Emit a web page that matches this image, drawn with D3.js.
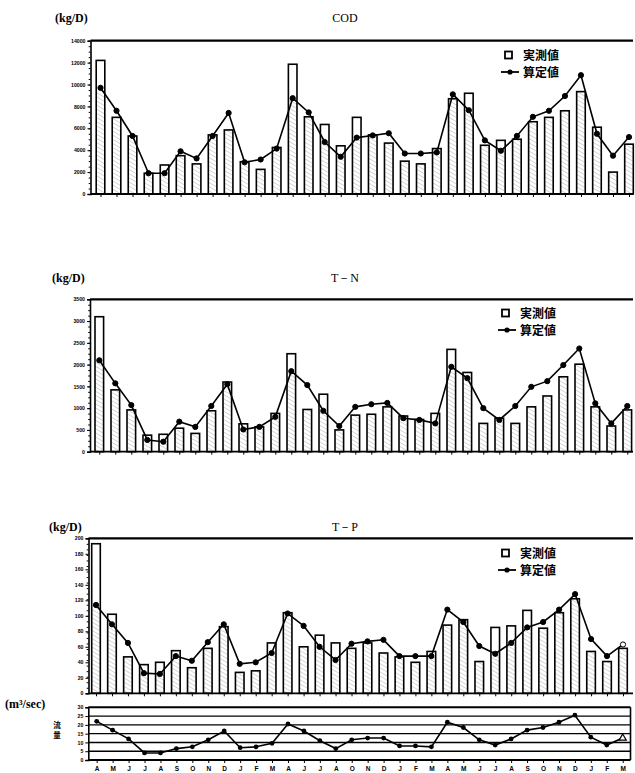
<!DOCTYPE html>
<html><head><meta charset="utf-8">
<script src="https://cdn.jsdelivr.net/npm/d3@7"></script>
<style>
html,body{margin:0;padding:0;background:#fff;}
svg{display:block;}
.tick text{font-family:"Liberation Sans Narrow","Liberation Sans",Arial,sans-serif;font-weight:bold;}
</style></head>
<body>
<svg id="chart" width="635" height="773"></svg>
<script>
// ---- data ----
const months = ["A","M","J","J","A","S","O","N","D","J","F","M",
                "A","J","J","A","O","N","D","J","F","M",
                "A","M","J","J","A","S","O","N","D","J","F","M"];
const codObserved = [12200,7000,5300,1900,2650,3500,2750,5400,5850,2950,2250,4250,
                     11850,7050,6350,4400,7000,5400,4650,3000,2750,4150,8700,9200,
                     4450,4900,5000,6600,7000,7600,9350,6100,2000,4550];
const codComputed = [9700,7600,5300,1900,1900,3900,3250,5300,7400,2900,3150,4150,
                     8750,7450,4750,3400,5150,5350,5550,3700,3700,3800,9100,7650,
                     4900,3950,5300,7050,7600,8950,10850,5500,3500,5200];
const tnObserved = [3100,1420,960,380,400,540,420,940,1600,640,570,880,
                    2250,970,1320,500,840,860,1030,820,740,880,2350,1820,
                    650,770,650,1030,1280,1720,2010,1030,590,960];
const tnComputed = [2100,1570,1070,270,230,690,570,1050,1550,510,570,800,
                    1850,1530,940,590,1030,1090,1120,770,730,650,1950,1690,
                    1000,730,1050,1490,1620,1990,2370,1110,650,1050];
const tpObserved = [193,102,47,37,40,55,33,58,86,27,29,65,
                    104,60,75,65,58,65,52,47,40,54,88,95,
                    41,85,87,107,84,104,122,54,41,58];
const tpComputed = [114,89,65,26,25,48,42,66,89,38,40,52,
                    103,87,60,43,64,67,69,48,48,48,108,92,
                    61,51,65,85,92,108,128,70,48,63];
const flow = [22,17,12,4,4,6.5,7.5,11.5,16.5,7,7.5,9.5,
              20.5,16.5,11,6.5,11.5,12.5,12.5,8,8,7.5,21.5,18.5,
              11.5,8.5,12,17,18.5,21.5,25.5,13,8.5,12.5];
const codTicks = [0,2000,4000,6000,8000,10000,12000,14000];
const tnTicks = [0,500,1000,1500,2000,2500,3000,3500];
const tpTicks = [0,20,40,60,80,100,120,140,160,180,200];
const flowTicks = [0,5,10,15,20,25,30];
const legendObserved = "実測値";
const legendComputed = "算定値";
const unitLoad = "(kg/D)";
const unitFlow = "(m³/sec)";
const flowLabel = ["流","量"];

// ---- drawing ----
const svg = d3.select("#chart");
const defs = svg.append("defs");
const pat = defs.append("pattern").attr("id","hatch").attr("patternUnits","userSpaceOnUse")
  .attr("width",3.6).attr("height",3.6).attr("patternTransform","rotate(-60)");
pat.append("rect").attr("width",3.6).attr("height",3.6).attr("fill","#fff");
pat.append("line").attr("x1",0).attr("y1",0).attr("x2",0).attr("y2",3.6)
  .attr("stroke","#a8a8a8").attr("stroke-width",0.9);

const idx = d3.range(months.length);
const serif = "'Liberation Serif','DejaVu Serif',serif";
const cjk = "'Noto Sans CJK JP','Noto Sans CJK SC',sans-serif";

function panel(cfg){
  const g = svg.append("g");
  const x = d3.scalePoint().domain(idx).range([cfg.x0, cfg.x1]);
  const y = d3.scaleLinear().domain([0, cfg.max]).range([cfg.yBottom, cfg.yTop]);
  const bw = 8.6;
  // top frame line
  g.append("line").attr("x1",cfg.axisX).attr("x2",633).attr("y1",y(cfg.max)).attr("y2",y(cfg.max))
    .attr("stroke","#000").attr("stroke-width",2.2);
  // bars
  const bars = g.append("g");
  idx.forEach(i=>{
    const ob = cfg.obs[i], cp = cfg.comp[i];
    const lo = Math.min(ob, cp);
    bars.append("rect").attr("x",x(i)-bw/2).attr("width",bw)
      .attr("y",y(lo)).attr("height",y(0)-y(lo)).attr("fill","url(#hatch)");
    bars.append("rect").attr("x",x(i)-bw/2).attr("width",bw)
      .attr("y",y(ob)).attr("height",y(0)-y(ob)).attr("fill","none")
      .attr("stroke","#000").attr("stroke-width",1.6);
  });
  // computed line
  const line = d3.line().x(i=>x(i)).y(i=>y(cfg.comp[i]));
  g.append("path").datum(idx).attr("d",line).attr("fill","none")
    .attr("stroke","#000").attr("stroke-width",1.6);
  g.selectAll("circle.pt").data(idx).join("circle").attr("class","pt")
    .attr("cx",i=>x(i)).attr("cy",i=>y(cfg.comp[i])).attr("r",2.6)
    .attr("fill",i=> (cfg.openLast && i===idx.length-1) ? "#fff" : "#000")
    .attr("stroke","#000").attr("stroke-width",1);
  // left axis
  const ay = d3.axisLeft(y).tickValues(cfg.ticks).tickSize(3).tickPadding(2).tickFormat(d3.format("d"));
  const ag = g.append("g").attr("transform",`translate(${cfg.axisX},0)`).call(ay);
  ag.select(".domain").attr("stroke-width",1.6);
  ag.selectAll(".tick text").attr("font-size",5.2);
  const minor = d3.axisLeft(y).tickValues(d3.range(0,cfg.max+1e-9,cfg.max/28)).tickSize(1.8).tickFormat("");
  g.append("g").attr("transform",`translate(${cfg.axisX},0)`).call(minor).select(".domain").remove();
  // bottom axis
  g.append("line").attr("x1",cfg.axisX).attr("x2",633).attr("y1",y(0)).attr("y2",y(0))
    .attr("stroke","#000").attr("stroke-width",1.8);
  const ax = d3.axisBottom(x).tickSize(3).tickFormat("");
  const bx = g.append("g").attr("transform",`translate(0,${y(0)})`).call(ax);
  bx.select(".domain").remove();
  // texts
  g.append("text").attr("x",cfg.unitX).attr("y",cfg.titleY).text(unitLoad)
    .attr("font-family",serif).attr("font-size",12).attr("font-weight","bold");
  g.append("text").attr("x",345).attr("y",cfg.titleY).attr("text-anchor","middle").text(cfg.title)
    .attr("font-family",serif).attr("font-size",12);
  // legend
  const lg = g.append("g").attr("transform",`translate(${cfg.legX},${cfg.legY})`);
  lg.append("rect").attr("x",0).attr("y",-3.5).attr("width",7).attr("height",7)
    .attr("fill","#fff").attr("stroke","#000").attr("stroke-width",1.8);
  lg.append("text").attr("x",18).attr("y",4.5).text(legendObserved)
    .attr("font-family",cjk).attr("font-size",12).attr("font-weight","bold");
  lg.append("line").attr("x1",-4).attr("x2",14).attr("y1",17).attr("y2",17)
    .attr("stroke","#000").attr("stroke-width",1.8);
  lg.append("circle").attr("cx",5).attr("cy",17).attr("r",2.6).attr("fill","#000");
  lg.append("text").attr("x",18).attr("y",21.5).text(legendComputed)
    .attr("font-family",cjk).attr("font-size",12).attr("font-weight","bold");
}

panel({obs:codObserved, comp:codComputed, max:14000, ticks:codTicks,
  yBottom:194, yTop:40.7, x0:100.5, x1:629, axisX:90.5,
  title:"COD", titleY:22, unitX:55, legX:505, legY:55});
panel({obs:tnObserved, comp:tnComputed, max:3500, ticks:tnTicks,
  yBottom:451.7, yTop:299.3, x0:99.3, x1:627.3, axisX:90,
  title:"T－N", titleY:282, unitX:52, legX:502, legY:313});
panel({obs:tpObserved, comp:tpComputed, max:200, ticks:tpTicks,
  yBottom:693.3, yTop:538.3, x0:96, x1:623, axisX:88.5,
  title:"T－P", titleY:531, unitX:49, legX:502, legY:553, openLast:true});

// flow panel
(function(){
  const g = svg.append("g");
  const x = d3.scalePoint().domain(idx).range([96.7, 622.7]);
  const y = d3.scaleLinear().domain([0,30]).range([760, 707.3]);
  const ax0 = 88.3, right = 630.5;
  g.selectAll("line.grid").data(flowTicks.filter(d=>d>0)).join("line").attr("class","grid")
    .attr("x1",ax0).attr("x2",right).attr("y1",d=>y(d)).attr("y2",d=>y(d))
    .attr("stroke","#000").attr("stroke-width",d=>d===30?2:1.4);
  g.append("line").attr("x1",right).attr("x2",right).attr("y1",y(30)).attr("y2",y(0))
    .attr("stroke","#000").attr("stroke-width",1.6);
  g.append("line").attr("x1",ax0).attr("x2",right).attr("y1",y(0)).attr("y2",y(0))
    .attr("stroke","#000").attr("stroke-width",1.8);
  const ay = d3.axisLeft(y).tickValues(flowTicks).tickSize(3).tickPadding(2);
  const ag = g.append("g").attr("transform",`translate(${ax0},0)`).call(ay);
  ag.select(".domain").attr("stroke-width",1.6);
  ag.selectAll(".tick text").attr("font-size",5.2);
  const bx = g.append("g").attr("transform",`translate(0,${y(0)})`)
    .call(d3.axisBottom(x).tickSize(3).tickPadding(3).tickFormat(i=>months[i]));
  bx.select(".domain").remove();
  bx.selectAll(".tick text").attr("font-size",6.5).attr("font-family","'Liberation Sans',Arial,sans-serif");
  const line = d3.line().x(i=>x(i)).y(i=>y(flow[i]));
  g.append("path").datum(idx).attr("d",line).attr("fill","none").attr("stroke","#000").attr("stroke-width",1.6);
  g.selectAll("circle.fp").data(idx.slice(0,-1)).join("circle").attr("class","fp")
    .attr("cx",i=>x(i)).attr("cy",i=>y(flow[i])).attr("r",2.4).attr("fill","#000");
  const li = idx.length-1;
  g.append("path").attr("d",d3.symbol(d3.symbolTriangle,22)())
    .attr("transform",`translate(${x(li)},${y(flow[li])})`)
    .attr("fill","#fff").attr("stroke","#000").attr("stroke-width",1.2);
  g.append("text").attr("x",5).attr("y",708).text(unitFlow)
    .attr("font-family",serif).attr("font-size",12).attr("font-weight","bold");
  flowLabel.forEach((c,k)=>{
    g.append("text").attr("x",57).attr("y",728+k*10).attr("text-anchor","middle").text(c)
      .attr("font-family",cjk).attr("font-size",7.5).attr("font-weight","bold");
  });
})();
</script>
</body></html>
